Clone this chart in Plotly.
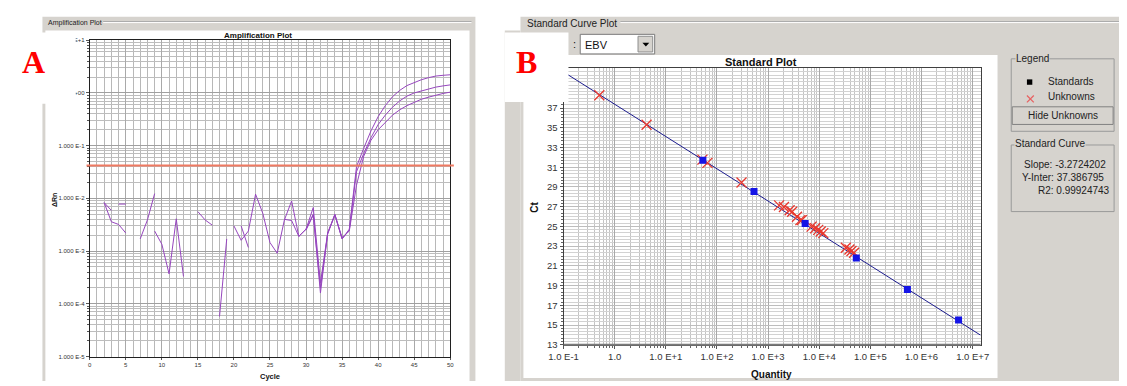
import numpy as np
import plotly.graph_objects as go

# ---------------- data ----------------
cycles = list(range(1, 51))
dRn_well1 = [None, 0.0083, 0.0036, 0.0032, 0.0022, None, 0.0017, 0.0039, 0.0123, None,
             None, None, None, None, 0.0056, 0.0039, 0.0031, None, None, 0.0030,
             0.0016, 0.0024, 0.0120, 0.0052, 0.00145, 0.00091, 0.0039, 0.0089, 0.0019, 0.0026,
             0.0050, 0.00016, 0.0022, 0.0050, 0.0017, 0.0026, 0.040, 0.089, 0.19, 0.355,
             0.575, 0.85, 1.12, 1.38, 1.58, 1.78, 1.95, 2.09, 2.16, 2.21]
dRn_well2 = [None, 0.0083, 0.0059, None, None, None, None, None, 0.0024, 0.00135,
             0.00037, 0.0041, 0.00033, None, None, None, None, 0.0000575, 0.0017, None,
             0.0030, 0.00117, None, None, None, None, 0.0040, 0.0038, 0.0019, 0.0026,
             0.0067, 0.00025, 0.0022, 0.0048, 0.0017, 0.0025, 0.032, 0.071, 0.141, 0.251,
             0.38, 0.537, 0.708, 0.871, 1.0, 1.10, 1.20, 1.29, 1.36, 1.42]
dRn_well3 = [None, None, None, 0.0078, 0.0078, None, None, None, None, None,
             None, None, None, None, None, None, None, None, None, None,
             None, None, None, None, None, None, None, None, None, 0.0025,
             0.0048, 0.0002, 0.0021, 0.0049, 0.0018, 0.0024, 0.0178, 0.063, 0.126, 0.20,
             0.282, 0.38, 0.479, 0.575, 0.66, 0.759, 0.832, 0.912, 0.977, 1.035]
threshold = 0.042
baseline_marks = [3, 15]
amp_ticks = [1e-5, 1e-4, 1e-3, 1e-2, 1e-1, 1e0, 1e1]
amp_ticktext = ["1.000 E-5", "1.000 E-4", "1.000 E-3", "1.000 E-2", "1.000 E-1", "1.000 E+00", "1.000 E+1"]

std_qty = [53, 530, 5300, 53000, 530000, 5300000]
std_ct = [31.7, 28.55, 25.3, 21.8, 18.6, 15.5]
unk_qty = [0.50, 4.2, 52, 65, 302, 1640, 2040, 2630, 2950, 3670, 4270, 4570,
           7080, 8320, 9550, 10700, 12000, 33100, 38900, 42700, 47900]
unk_ct = [38.3, 35.3, 31.77, 31.44, 29.45, 27.13, 26.97, 26.64, 26.48, 25.98, 25.64, 25.64,
          24.98, 24.82, 24.65, 24.49, 24.32, 22.83, 22.66, 22.5, 22.33]
slope = -3.2724202
intercept = 37.386795
r2 = 0.99924743
qty_ticks = [1e-1, 1e0, 1e1, 1e2, 1e3, 1e4, 1e5, 1e6, 1e7]
qty_ticktext = ["1.0 E-1", "1.0", "1.0 E+1", "1.0 E+2", "1.0 E+3", "1.0 E+4", "1.0 E+5", "1.0 E+6", "1.0 E+7"]
ct_ticks = list(range(13, 38, 2))

# ---------------- helpers ----------------
W, H = 1127, 386
def px(x): return x / W
def py(y): return 1 - y / H

GRAY = "#D6D3CE"
UI = "Liberation Sans"
shapes = []
annots = []

def rect(x0, y0, x1, y1, fill, line=None, lw=0, layer="below"):
    shapes.append(dict(type="rect", xref="paper", yref="paper",
                       x0=px(x0), x1=px(x1), y0=py(y1), y1=py(y0),
                       fillcolor=fill, line=dict(color=line or fill, width=lw), layer=layer))

def seg(x0, y0, x1, y1, color, lw=1, layer="below"):
    shapes.append(dict(type="line", xref="paper", yref="paper",
                       x0=px(x0), x1=px(x1), y0=py(y0), y1=py(y1),
                       line=dict(color=color, width=lw), layer=layer))

def text(x, y, s, size=10, bold=False, color="#111", xa="left", ya="middle",
         angle=0, family=UI, bg=None):
    a = dict(xref="paper", yref="paper", x=px(x), y=py(y), text=("<b>%s</b>" % s) if bold else s,
             showarrow=False, xanchor=xa, yanchor=ya, textangle=angle,
             font=dict(size=size, color=color, family=family))
    if bg:
        a["bgcolor"] = bg
    a["borderpad"] = 0
    annots.append(a)

# ---------- panel A frame ----------
rect(28, 14, 470, 386, GRAY)
rect(31, 28, 464, 386, "white")
seg(90, 19, 466, 19, "#A8A8A8")
seg(90, 20, 466, 20, "#FFFFFF")
text(33, 20, "Amplification Plot", size=7, color="#222")
text(248, 33, "Amplification Plot", size=8, bold=True, xa="center")
text(41, 201, "ΔRn", size=7, bold=True, angle=-90, xa="center")
text(260, 381, "Cycle", size=7.5, bold=True, xa="center")

# ---------- panel B frame ----------
rect(516, 14, 1127, 386, GRAY)
rect(500, 28, 516, 386, GRAY)
seg(618, 19, 1127, 19, "#A8A8A8")
seg(618, 20, 1127, 20, "#FFFFFF")
text(522, 21, "Standard Curve Plot", size=10, color="#222")
rect(519, 53, 1003, 383, "white")
# detector dropdown
text(569, 42, ":", size=11)
rect(577, 32, 653, 52, "white", line="#7A7A7A", lw=1)
rect(636, 34, 651, 50, GRAY, line="#8E8E8E", lw=1)
shapes.append(dict(type="path", xref="paper", yref="paper",
                   path="M %f,%f L %f,%f L %f,%f Z" % (px(640.5), py(40.5), px(647.5), py(40.5), px(644), py(44.5)),
                   fillcolor="black", line=dict(width=0), layer="below"))
text(581, 42.5, "EBV", size=11)
text(762, 60, "Standard Plot", size=11, bold=True, xa="center")
text(531, 209, "Ct", size=10, bold=True, angle=-90, xa="center")
text(772, 379, "Quantity", size=10, bold=True, xa="center")

# legend group
rect(1017, 57, 1122, 131, "rgba(0,0,0,0)", line="#9A9A9A", lw=1)
text(1021, 57, "Legend", size=10, color="#222", bg=GRAY)
rect(1033, 78, 1038.5, 83.5, "black")
text(1054, 80.5, "Standards", size=10, color="#222")
seg(1033, 94.5, 1040, 101.5, "#E86060", 1.2)
seg(1033, 101.5, 1040, 94.5, "#E86060", 1.2)
text(1054, 95.5, "Unknowns", size=10, color="#222")
rect(1018, 106, 1121, 124, GRAY, line="#808080", lw=1)
text(1069.5, 115, "Hide Unknowns", size=10, color="#222", xa="center")
# standard curve group
rect(1017, 145, 1122, 213, "rgba(0,0,0,0)", line="#9A9A9A", lw=1)
text(1020, 143.5, "Standard Curve", size=10, color="#222", bg=GRAY)
text(1029, 165, "Slope: %s" % slope, size=10, color="#222")
text(1027, 178.5, "Y-Inter: %s" % intercept, size=10, color="#222")
text(1043, 191.5, "R2: %s" % r2, size=10, color="#222")

# white label boxes with letters
rect(0, 30, 62, 103, "white", layer="above")
rect(500, 30, 565, 101, "white", layer="above")
text(19, 60, "A", size=32, bold=True, color="#FF0000", xa="center", family="Liberation Serif")
text(522, 60, "B", size=32, bold=True, color="#FF0000", xa="center", family="Liberation Serif")

# threshold line (data y, paper x)
shapes.append(dict(type="line", xref="paper", yref="y", x0=px(73), x1=px(448),
                   y0=threshold, y1=threshold, line=dict(color="#F07A62", width=2), layer="above"))
# heavier grey bottom axis of the standard plot
shapes.append(dict(type="line", xref="x2 domain", yref="y2 domain", x0=0, x1=1, y0=0, y1=0,
                   line=dict(color="#7A7A7A", width=2), layer="above"))

# ---------------- traces ----------------
fig = go.Figure()
purple = "#9646BE"
for w in (dRn_well3, dRn_well2, dRn_well1):
    fig.add_trace(go.Scatter(x=cycles, y=w, mode="lines", line=dict(color=purple, width=1),
                             connectgaps=False, xaxis="x", yaxis="y", hoverinfo="skip"))
fig.add_trace(go.Scatter(x=baseline_marks, y=[9e-6] * len(baseline_marks), mode="markers",
                         marker=dict(symbol="triangle-up", size=6, color="#E02020"),
                         cliponaxis=False, xaxis="x", yaxis="y", hoverinfo="skip"))

line_q = np.array([10 ** -1, 10 ** 7.155])
fig.add_trace(go.Scatter(x=line_q, y=slope * np.log10(line_q) + intercept, mode="lines",
                         line=dict(color="#1C1C8E", width=1), xaxis="x2", yaxis="y2", hoverinfo="skip"))
fig.add_trace(go.Scatter(x=unk_qty, y=unk_ct, mode="markers",
                         marker=dict(symbol="x-thin", size=10, line=dict(color="#E8382E", width=1.3)),
                         xaxis="x2", yaxis="y2", hoverinfo="skip"))
fig.add_trace(go.Scatter(x=std_qty, y=std_ct, mode="markers",
                         marker=dict(symbol="square", size=7, color="#1414E6"),
                         xaxis="x2", yaxis="y2", hoverinfo="skip"))

tickfontA = dict(size=6, color="#333", family=UI)
tickfontB = dict(size=9.5, color="#333", family=UI)

fig.update_layout(
    width=W, height=H, autosize=False,
    margin=dict(l=0, r=0, t=0, b=0),
    paper_bgcolor="white", plot_bgcolor="white",
    showlegend=False,
    shapes=shapes, annotations=annots,
    xaxis=dict(domain=[px(76.3), px(444.3)], range=[0, 50], anchor="y",
               tickmode="linear", tick0=0, dtick=5, tickfont=tickfontA,
               showgrid=True, gridcolor="#A9A9A9", gridwidth=1,
               minor=dict(dtick=1, showgrid=True, gridcolor="#B8B8B8"),
               showline=True, linecolor="#202020", linewidth=1, mirror=True,
               ticks="outside", ticklen=2, tickcolor="#555", zeroline=False),
    yaxis=dict(domain=[py(361), py(38)], type="log", range=[-5, 1], anchor="x",
               tickmode="array", tickvals=amp_ticks, ticktext=amp_ticktext, tickfont=tickfontA,
               showgrid=True, gridcolor="#A0A0A0", gridwidth=1,
               minor=dict(dtick="D1", showgrid=True, gridcolor="#BDBDBD", ticks="outside", ticklen=2, tickcolor="#555"),
               showline=True, linecolor="#202020", linewidth=1, mirror=True,
               ticks="outside", ticklen=3, tickcolor="#555", zeroline=False),
    xaxis2=dict(domain=[px(560), px(985.7)], type="log", range=[-1, 7.155], anchor="y2",
                tickmode="array", tickvals=qty_ticks, ticktext=qty_ticktext, tickfont=tickfontB,
                showgrid=True, gridcolor="#A8A8A8", gridwidth=1,
                minor=dict(dtick="D1", showgrid=True, gridcolor="#C4C4C4", ticks="outside", ticklen=2, tickcolor="#666"),
                showline=True, linecolor="#404040", linewidth=1, mirror=True,
                ticks="outside", ticklen=3, tickcolor="#555", zeroline=False),
    yaxis2=dict(domain=[py(349), py(66.7)], range=[13, 41.03], anchor="x2",
                tickmode="array", tickvals=ct_ticks, tickfont=tickfontB,
                showgrid=True, gridcolor="#BDBDBD", gridwidth=1,
                minor=dict(dtick=1 / 3, tick0=13, showgrid=True, gridcolor="#D2D2D2", ticks="outside", ticklen=2, tickcolor="#666"),
                showline=True, linecolor="#404040", linewidth=1, mirror=True,
                ticks="outside", ticklen=3, tickcolor="#555", zeroline=False),
)

fig.write_html("out.html")
